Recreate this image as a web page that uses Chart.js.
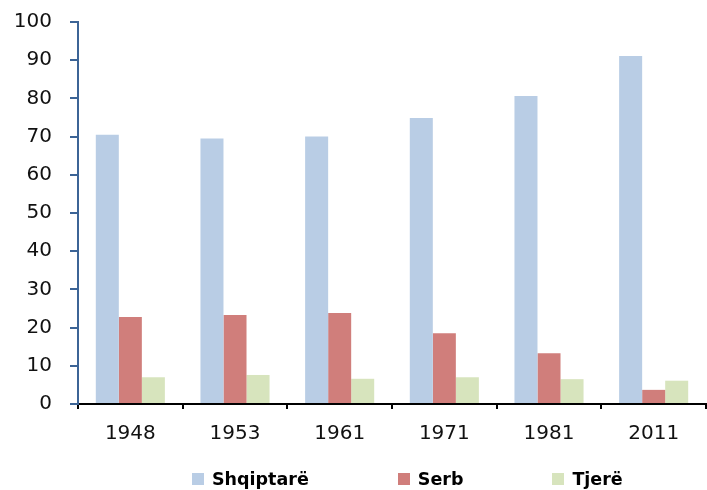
<!DOCTYPE html>
<html>
<head>
<meta charset="utf-8">
<script src="https://cdn.jsdelivr.net/npm/chart.js@4.4.1/dist/chart.umd.min.js"></script>
<style>
  html, body { margin: 0; padding: 0; background: #fff; }
  #wrap { position: relative; width: 707px; height: 490px; }
  #legend { position: absolute; left: 192px; top: 469px; display: flex; font: bold 17.5px "DejaVu Sans", sans-serif; color: #000; }
  #legend .item { display: flex; align-items: center; margin-right: 89px; }
  #legend .box { width: 12px; height: 12px; margin-right: 8px; }
</style>
</head>
<body>
<div id="wrap">
  <canvas id="myChart" width="707" height="490"></canvas>
  <div id="legend"></div>
</div>
<script>
// years on the x axis
var years = ["1948", "1953", "1961", "1971", "1981", "2011"]
// share of population, %
var shqiptare = [70.5, 69.5, 70.0, 74.9, 80.6, 91.1]
var serb = [22.8, 23.3, 23.8, 18.5, 13.3, 3.7]
var tjere = [7.0, 7.6, 6.6, 7.0, 6.5, 6.1]
var seriesNames = ["Shqiptarë", "Serb", "Tjerë"]
var colors = ["#b9cde5", "#d07e7b", "#d7e4bd"]

var yAxisColor = "#3c6496"

var ctx = document.getElementById("myChart")
var chart = new Chart(ctx, {
    type: 'bar',
    data: {
        labels: years,
        datasets: [shqiptare, serb, tjere].map(function(vals, i){
            return {
                label: seriesNames[i],
                data: vals,
                backgroundColor: colors[i],
                borderWidth: 0,
                barPercentage: 1.0,
                categoryPercentage: 0.66
            }
        })
    },
    options: {
        responsive: false,
        animation: false,
        layout: { padding: { top: 22, left: 0, right: 1, bottom: 31 } },
        plugins: {
            legend: { display: false },
            tooltip: { enabled: false }
        },
        scales: {
            x: {
                grid: { drawOnChartArea: false, drawTicks: true, tickLength: 5, color: "#000", lineWidth: 2 },
                border: { color: "#000", width: 2 },
                ticks: { font: { family: "DejaVu Sans", size: 20 }, color: "#111", padding: 13 }
            },
            y: {
                min: 0,
                max: 100,
                afterFit: function(scale){
                    scale.width = 78
                    scale.paddingTop = 0
                    scale.paddingBottom = 0
                },
                ticks: { stepSize: 10, font: { family: "DejaVu Sans", size: 20 }, color: "#111", padding: 18 },
                grid: { drawOnChartArea: false, drawTicks: true, tickLength: 8, color: yAxisColor, lineWidth: 2 },
                border: { color: yAxisColor, width: 2 }
            }
        }
    }
})

// legend built from the same series names and colours
var legend = document.getElementById("legend")
seriesNames.forEach(function(name, i){
    var item = document.createElement("div")
    item.className = "item"
    item.innerHTML = '<span class="box" style="background:' + colors[i] + '"></span><span>' + name + '</span>'
    legend.appendChild(item)
})
</script>
</body>
</html>
